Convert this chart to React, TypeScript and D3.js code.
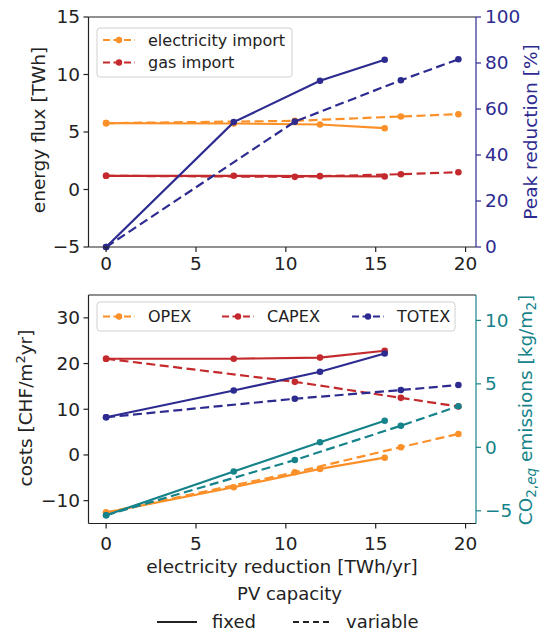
import React from 'react';
import * as d3 from 'd3';

// ---- data ----
const xFixed = [0, 7.1, 11.9, 15.5];
const xVariable = [0, 10.5, 16.4, 19.6];

const elecFixed = [5.77, 5.74, 5.65, 5.33];
const elecVariable = [5.77, 5.97, 6.35, 6.55];
const gasFixed = [1.19, 1.19, 1.16, 1.13];
const gasVariable = [1.19, 1.1, 1.33, 1.5];
const peakFixed = [0, 54.3, 72.3, 81.4];
const peakVariable = [0, 54.5, 72.5, 81.6];

const opexFixed = [-12.6, -7.06, -3.06, -0.6];
const opexVariable = [-12.6, -3.8, 1.7, 4.6];
const capexFixed = [21.05, 21.05, 21.3, 22.8];
const capexVariable = [21.05, 16.0, 12.5, 10.6];
const totexFixed = [8.25, 14.1, 18.2, 22.2];
const totexVariable = [8.25, 12.3, 14.2, 15.3];
const co2Fixed = [-5.35, -1.9, 0.4, 2.1];
const co2Variable = [-5.35, -1.0, 1.7, 3.24];

const xTicks = [0, 5, 10, 15, 20];
const topLeftTicks = [-5, 0, 5, 10, 15];
const topRightTicks = [0, 20, 40, 60, 80, 100];
const botLeftTicks = [-10, 0, 10, 20, 30];
const botRightTicks = [-5, 0, 5, 10];

const topLegend = ['electricity import', 'gas import'];
const botLegend = ['OPEX', 'CAPEX', 'TOTEX'];

// ---- style ----
const FONT = 'DejaVu Sans, sans-serif';
const ORANGE = '#fb9029';
const RED = '#c42a2d';
const BLUE = '#2d2b90';
const TEAL = '#16838a';
const DASH = '9,4.5';
const fmt = (v: number) => (v < 0 ? '\u2212' + Math.abs(v) : String(v));

const L = 88.5, R = 476;
const xScale = d3.scaleLinear().domain([-0.98, 20.58]).range([L, R]);
const topY = d3.scaleLinear().domain([-5, 15]).range([247, 17]);
const topYR = d3.scaleLinear().domain([0, 100]).range([247, 17]);
const botY = d3.scaleLinear().domain([-15, 35]).range([523.5, 295]);
const botYR = d3.scaleLinear().domain([-6, 12]).range([523.5, 295]);

function Series({ xs, ys, y, color, dashed }: any) {
  const line = d3.line<number>().x((_, i) => xScale(xs[i])).y((d) => y(d));
  return (
    <g>
      <path d={line(ys) || ''} fill="none" stroke={color} strokeWidth={2.2} strokeDasharray={dashed ? DASH : undefined} />
      {ys.map((v: number, i: number) => (
        <circle key={i} cx={xScale(xs[i])} cy={y(v)} r={3.3} fill={color} />
      ))}
    </g>
  );
}

function Frame({ yL, yR, leftTicks, rightTicks, rightColor, top, bottom, xLabelY }: any) {
  return (
    <g fontFamily={FONT} fontSize={18.5}>
      <line x1={L} x2={R} y1={top} y2={top} stroke="#222" strokeWidth={1.2} />
      <line x1={L} x2={R} y1={bottom} y2={bottom} stroke="#222" strokeWidth={1.2} />
      <line x1={L} x2={L} y1={top} y2={bottom} stroke="#222" strokeWidth={1.2} />
      <line x1={R} x2={R} y1={top} y2={bottom} stroke={rightColor} strokeWidth={1.2} />
      {xTicks.map((t) => (
        <g key={'x' + t}>
          <line x1={xScale(t)} x2={xScale(t)} y1={bottom} y2={bottom + 5} stroke="#222" strokeWidth={1.2} />
          <text x={xScale(t)} y={xLabelY} textAnchor="middle" fill="#222">{fmt(t)}</text>
        </g>
      ))}
      {leftTicks.map((t: number) => (
        <g key={'l' + t}>
          <line x1={L - 5} x2={L} y1={yL(t)} y2={yL(t)} stroke="#222" strokeWidth={1.2} />
          <text x={L - 8.5} y={yL(t)} dy="0.35em" textAnchor="end" fill="#222">{fmt(t)}</text>
        </g>
      ))}
      {rightTicks.map((t: number) => (
        <g key={'r' + t}>
          <line x1={R} x2={R + 5} y1={yR(t)} y2={yR(t)} stroke={rightColor} strokeWidth={1.2} />
          <text x={R + 9} y={yR(t)} dy="0.35em" textAnchor="start" fill={rightColor}>{fmt(t)}</text>
        </g>
      ))}
    </g>
  );
}

function LegendHandle({ x, y, color, w = 32 }: any) {
  return (
    <g>
      <line x1={x} x2={x + w} y1={y} y2={y} stroke={color} strokeWidth={2} strokeDasharray="7,3.5" />
      <circle cx={x + w / 2} cy={y} r={3.2} fill={color} />
    </g>
  );
}

export default function App() {
  return (
    <svg width={542} height={631} style={{ position: 'absolute', left: 0, top: 0, background: '#fff' }}>
      <rect x={0} y={0} width={542} height={631} fill="#fff" />
      {/* ---------- top panel ---------- */}
      <Series xs={xFixed} ys={elecFixed} y={topY} color={ORANGE} />
      <Series xs={xVariable} ys={elecVariable} y={topY} color={ORANGE} dashed />
      <Series xs={xFixed} ys={gasFixed} y={topY} color={RED} />
      <Series xs={xVariable} ys={gasVariable} y={topY} color={RED} dashed />
      <Series xs={xFixed} ys={peakFixed} y={topYR} color={BLUE} />
      <Series xs={xVariable} ys={peakVariable} y={topYR} color={BLUE} dashed />
      <Frame yL={topY} yR={topYR} leftTicks={topLeftTicks} rightTicks={topRightTicks} rightColor={BLUE} top={17} bottom={247} xLabelY={270} />
      <g fontFamily={FONT} fontSize={16}>
        <rect x={97} y={28} width={195} height={49} rx={3} fill="#fff" fillOpacity={0.8} stroke="#d0d0d0" strokeWidth={1} />
        {topLegend.map((name, i) => (
          <g key={name}>
            <LegendHandle x={103} y={40 + i * 22.5} color={i === 0 ? ORANGE : RED} />
            <text x={148} y={40 + i * 22.5} dy="0.35em" fill="#222">{name}</text>
          </g>
        ))}
      </g>
      <text transform="translate(39,130) rotate(-90)" textAnchor="middle" dy="0.35em" fontFamily={FONT} fontSize={18.5} fill="#222">energy flux [TWh]</text>
      <text transform="translate(531,132) rotate(-90)" textAnchor="middle" dy="0.35em" fontFamily={FONT} fontSize={18.5} fill={BLUE}>Peak reduction [%]</text>

      {/* ---------- bottom panel ---------- */}
      <Series xs={xFixed} ys={opexFixed} y={botY} color={ORANGE} />
      <Series xs={xVariable} ys={opexVariable} y={botY} color={ORANGE} dashed />
      <Series xs={xFixed} ys={capexFixed} y={botY} color={RED} />
      <Series xs={xVariable} ys={capexVariable} y={botY} color={RED} dashed />
      <Series xs={xFixed} ys={totexFixed} y={botY} color={BLUE} />
      <Series xs={xVariable} ys={totexVariable} y={botY} color={BLUE} dashed />
      <Series xs={xFixed} ys={co2Fixed} y={botYR} color={TEAL} />
      <Series xs={xVariable} ys={co2Variable} y={botYR} color={TEAL} dashed />
      <Frame yL={botY} yR={botYR} leftTicks={botLeftTicks} rightTicks={botRightTicks} rightColor={TEAL} top={295} bottom={523.5} xLabelY={550} />
      <g fontFamily={FONT} fontSize={16}>
        <rect x={97} y={302} width={358} height={29} rx={3} fill="#fff" fillOpacity={0.8} stroke="#d0d0d0" strokeWidth={1} />
        {botLegend.map((name, i) => {
          const hx = [103, 222, 352][i];
          return (
            <g key={name}>
              <LegendHandle x={hx} y={316.5} color={[ORANGE, RED, BLUE][i]} />
              <text x={hx + 45} y={316.5} dy="0.35em" fill="#222">{name}</text>
            </g>
          );
        })}
      </g>
      <text transform="translate(26,408) rotate(-90)" textAnchor="middle" dy="0.35em" fontFamily={FONT} fontSize={18.5} fill="#222">
        costs [CHF/m<tspan dy="-7" fontSize={13}>2</tspan><tspan dy="7">yr]</tspan>
      </text>
      <text transform="translate(526,410) rotate(-90)" textAnchor="middle" dy="0.35em" fontFamily={FONT} fontSize={18.5} fill={TEAL}>
        CO<tspan dy="4" fontSize={13.5}>2,</tspan><tspan fontSize={13.5} fontStyle="italic">eq</tspan><tspan dy="-4"> emissions [kg/m</tspan><tspan dy="4" fontSize={13.5}>2</tspan><tspan dy="-4">]</tspan>
      </text>

      {/* ---------- x label & figure legend ---------- */}
      <g fontFamily={FONT} fill="#222">
        <text x={282} y={567} dy="0.35em" textAnchor="middle" fontSize={18.5}>electricity reduction [TWh/yr]</text>
        <text x={289.5} y={594} dy="0.35em" textAnchor="middle" fontSize={18}>PV capacity</text>
        <line x1={157} x2={197} y1={622} y2={622} stroke="#222" strokeWidth={2} />
        <text x={212} y={622} dy="0.35em" fontSize={18}>fixed</text>
        <line x1={293} x2={331} y1={622} y2={622} stroke="#222" strokeWidth={2} strokeDasharray="6,4" />
        <text x={346} y={622} dy="0.35em" fontSize={18}>variable</text>
      </g>
    </svg>
  );
}
